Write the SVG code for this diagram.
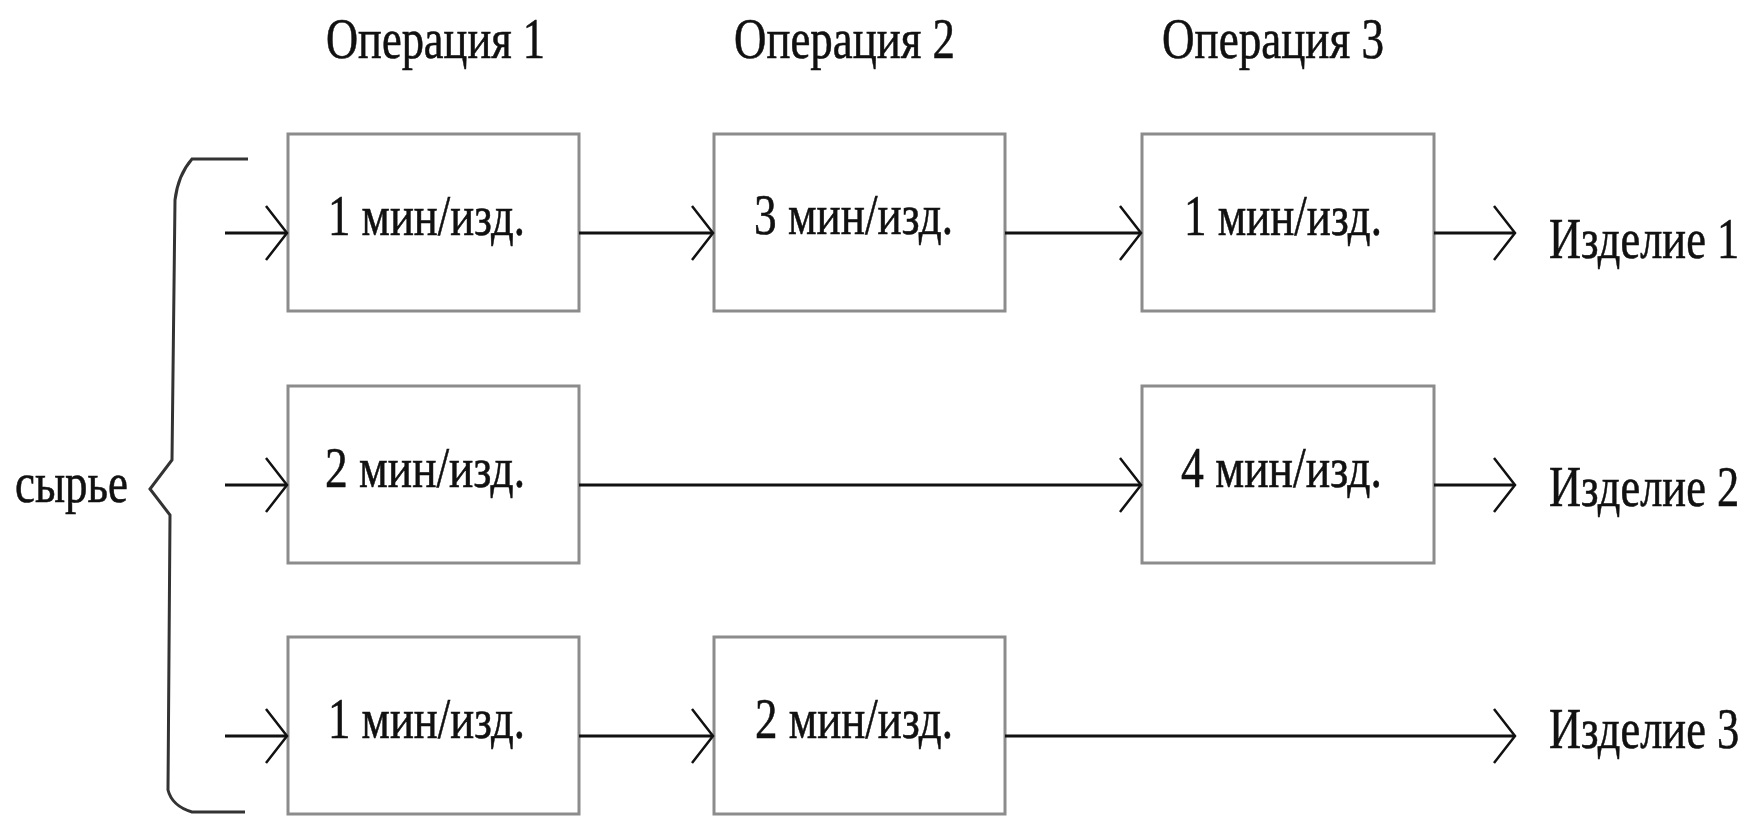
<svg xmlns="http://www.w3.org/2000/svg" width="1750" height="816" viewBox="0 0 1750 816">
<style>
.box{fill:#fff;stroke:#8c8c8c;stroke-width:3}
.t{font-family:"Liberation Serif","Times New Roman",serif;font-size:58px;fill:#111;stroke:#111;stroke-width:0.6}
.c{stroke:#111;stroke-width:3;fill:none;marker-end:url(#arr)}
.br{stroke:#333;stroke-width:3;fill:none}
</style>
<defs>
<marker id="arr" markerUnits="userSpaceOnUse" markerWidth="30" markerHeight="60" viewBox="-25 -30 30 60" refX="0" refY="0" orient="auto" overflow="visible">
<path d="M-21,-27 L0,0 L-21,27" fill="none" stroke="#111" stroke-width="2.5"/>
</marker>
</defs>
<rect width="1750" height="816" fill="#fff"/>

<g id="headers">
<text class="t" x="326" y="58" textLength="219" lengthAdjust="spacingAndGlyphs">Операция 1</text>
<text class="t" x="734" y="58" textLength="221" lengthAdjust="spacingAndGlyphs">Операция 2</text>
<text class="t" x="1162" y="58" textLength="222" lengthAdjust="spacingAndGlyphs">Операция 3</text>
</g>

<g id="raw">
<path class="br" d="M248,159 L192,159 Q178,175 175,200 L172,460 L150,489 L170,515 L168,790 Q172,806 192,812 L245,812"/>
<text class="t" x="15" y="502" textLength="113" lengthAdjust="spacingAndGlyphs">сырье</text>
</g>

<g id="n11"><rect class="box" x="288" y="134" width="291" height="177"/><text class="t" x="328" y="235" textLength="197" lengthAdjust="spacingAndGlyphs">1 мин/изд.</text></g>
<g id="n12"><rect class="box" x="714" y="134" width="291" height="177"/><text class="t" x="754" y="234" textLength="199" lengthAdjust="spacingAndGlyphs">3 мин/изд.</text></g>
<g id="n13"><rect class="box" x="1142" y="134" width="292" height="177"/><text class="t" x="1184" y="235" textLength="198" lengthAdjust="spacingAndGlyphs">1 мин/изд.</text></g>
<g id="n21"><rect class="box" x="288" y="386" width="291" height="177"/><text class="t" x="325" y="487" textLength="200" lengthAdjust="spacingAndGlyphs">2 мин/изд.</text></g>
<g id="n23"><rect class="box" x="1142" y="386" width="292" height="177"/><text class="t" x="1181" y="487" textLength="201" lengthAdjust="spacingAndGlyphs">4 мин/изд.</text></g>
<g id="n31"><rect class="box" x="288" y="637" width="291" height="177"/><text class="t" x="328" y="738" textLength="197" lengthAdjust="spacingAndGlyphs">1 мин/изд.</text></g>
<g id="n32"><rect class="box" x="714" y="637" width="291" height="177"/><text class="t" x="755" y="738" textLength="198" lengthAdjust="spacingAndGlyphs">2 мин/изд.</text></g>

<g id="outputs">
<text class="t" transform="translate(1549,258) scale(0.77,1)" x="0" y="0" textLength="247" lengthAdjust="spacingAndGlyphs">Изделие 1</text>
<text class="t" transform="translate(1549,506) scale(0.77,1)" x="0" y="0" textLength="247" lengthAdjust="spacingAndGlyphs">Изделие 2</text>
<text class="t" transform="translate(1549,748) scale(0.77,1)" x="0" y="0" textLength="247" lengthAdjust="spacingAndGlyphs">Изделие 3</text>
</g>

<g id="connectors">
<line class="c" x1="225" y1="233" x2="287" y2="233"/>
<line class="c" x1="579" y1="233" x2="713" y2="233"/>
<line class="c" x1="1005" y1="233" x2="1141" y2="233"/>
<line class="c" x1="1434" y1="233" x2="1515" y2="233"/>
<line class="c" x1="225" y1="485" x2="287" y2="485"/>
<line class="c" x1="579" y1="485" x2="1141" y2="485"/>
<line class="c" x1="1434" y1="485" x2="1515" y2="485"/>
<line class="c" x1="225" y1="736" x2="287" y2="736"/>
<line class="c" x1="579" y1="736" x2="713" y2="736"/>
<line class="c" x1="1005" y1="736" x2="1515" y2="736"/>
</g>
</svg>
